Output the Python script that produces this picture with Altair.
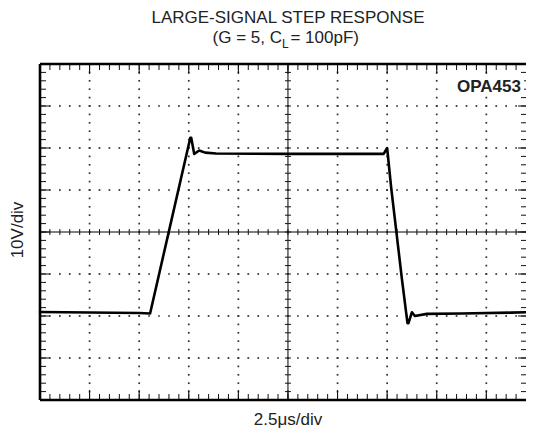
import altair as alt
import pandas as pd

# ---- data (in scope divisions: x 0..10, y -4..4) ----
wave_t = [0.0, 1.0, 2.0, 2.22, 3.03, 3.05, 3.11, 3.21, 3.33, 3.55, 5.0, 6.93, 7.0,
          7.08, 7.30, 7.41, 7.43, 7.50, 7.56, 7.80, 8.5, 9.5, 9.8]
wave_v = [-1.905, -1.915, -1.93, -1.94, 2.24, 2.24, 1.857, 1.94, 1.89, 1.87, 1.86, 1.86, 2.0,
          1.07, -1.14, -2.17, -2.17, -1.91, -2.0, -1.95, -1.94, -1.92, -1.91]

major_x = [1, 2, 3, 4, 5, 6, 7, 8, 9]
major_y = [-3, -2, -1, 0, 1, 2, 3]
minor_x = [round(i * 0.2, 1) for i in range(1, 49)]
minor_y = [round(-4 + i * 0.2, 1) for i in range(1, 40)]

title_line1 = "LARGE-SIGNAL STEP RESPONSE"
title_line2 = ["(G = 5, C", "L", " = 100pF)"]
x_label = "2.5\u03bcs/div"
y_label = "10V/div"
part_label = "OPA453"

# ---- layout ----
XMAX = 9.8          # the screen only shows 9.8 of the 10 divisions
W, H = 486, 336
FONT = "Liberation Sans"
TXT = "#222222"
CXP = 5 / XMAX * W  # pixel of centre vertical line

xs = alt.Scale(domain=[0, XMAX], nice=False, zero=False)
ys = alt.Scale(domain=[-4, 4], nice=False, zero=False)

def X(f):
    return alt.X(f, type="quantitative", scale=xs, axis=None)

def Y(f):
    return alt.Y(f, type="quantitative", scale=ys, axis=None)

grid_x = [v for v in major_x if v != 5]
grid_y = [v for v in major_y if v != 0]
dots = pd.DataFrame(
    [{"x": gx, "y": my} for gx in grid_x for my in minor_y]
    + [{"x": mx, "y": gy} for gy in grid_y for mx in minor_x]
)
dot_layer = alt.Chart(dots).mark_square(size=3, color="#333333", opacity=1).encode(
    x=X("x"), y=Y("y"))

center_v = alt.Chart(pd.DataFrame({"x": [5]})).mark_rule(color="black", strokeWidth=1).encode(x=X("x"))
center_h = alt.Chart(pd.DataFrame({"y": [0]})).mark_rule(color="black", strokeWidth=1).encode(y=Y("y"))

one = pd.DataFrame({"k": [0]})
borders = [
    alt.Chart(one).mark_rule(color="black", strokeWidth=2.6).encode(
        x=alt.value(0), y=alt.value(0), y2=alt.value(H)),
    alt.Chart(one).mark_rule(color="black", strokeWidth=2.6).encode(
        x=alt.value(0), x2=alt.value(W), y=alt.value(0)),
    alt.Chart(one).mark_rule(color="black", strokeWidth=2.6).encode(
        x=alt.value(0), x2=alt.value(W), y=alt.value(H)),
]

dfx_minor = pd.DataFrame({"x": minor_x})
dfx_major = pd.DataFrame({"x": major_x})
dfy_minor = pd.DataFrame({"y": minor_y})
dfy_major = pd.DataFrame({"y": major_y})

def xticks(df, a, b):
    return alt.Chart(df).mark_rule(color="#111111", strokeWidth=1).encode(
        x=X("x"), y=alt.value(a), y2=alt.value(b))

def yticks(df, a, b):
    return alt.Chart(df).mark_rule(color="#111111", strokeWidth=1).encode(
        y=Y("y"), x=alt.value(a), x2=alt.value(b))

tick_layers = [
    xticks(dfx_minor, 0, 6), xticks(dfx_major, 0, 10),
    xticks(dfx_minor, H, H - 6), xticks(dfx_major, H, H - 10),
    yticks(dfy_minor, 0, 6), yticks(dfy_major, 0, 10),
    yticks(dfy_minor, W, W - 5), yticks(dfy_major, W, W - 8),
    xticks(dfx_minor, H / 2 - 3, H / 2 + 3),
    yticks(dfy_minor, CXP - 3, CXP + 3),
]

wave = alt.Chart(pd.DataFrame({"t": wave_t, "v": wave_v})).mark_line(
    color="black", strokeWidth=2.6, interpolate="linear", strokeJoin="round", strokeCap="round"
).encode(x=X("t"), y=Y("v"))

# white box behind the part label (label sits on a clear patch of graticule)
label_bg = alt.Chart(one).mark_rect(color="white").encode(
    x=alt.value(411), x2=alt.value(484), y=alt.value(12), y2=alt.value(32))

def label(txt, x, y, size=17, align="center", weight="normal", angle=0, baseline="alphabetic"):
    kw = dict(font=FONT, fontSize=size, color=TXT, align=align, baseline=baseline, fontWeight=weight)
    if angle:
        kw["angle"] = angle
    return alt.Chart(pd.DataFrame({"s": [txt]})).mark_text(**kw).encode(
        text="s:N", x=alt.value(x), y=alt.value(y))

cx = CXP
texts = [
    label(title_line1, cx, -41),
    label(title_line2[0], cx - 6, -21, align="right"),
    label(title_line2[1], cx - 6, -16, size=12, align="left"),
    label(title_line2[2], cx + 2.5, -21, align="left"),
    label(x_label, CXP, 361),
    label(y_label, -22, H / 2 - 2, angle=270, baseline="middle"),
    label(part_label, 481, 28, size=17, align="right", weight="bold"),
]

chart = alt.layer(dot_layer, center_v, center_h, *tick_layers, *borders, wave, label_bg, *texts).properties(
    width=W, height=H, autosize="none",
    padding={"left": 32, "top": 56, "right": 0, "bottom": 30},
).configure_view(strokeWidth=0)

chart.save("out.html", embed_options={"renderer": "svg", "actions": False})
